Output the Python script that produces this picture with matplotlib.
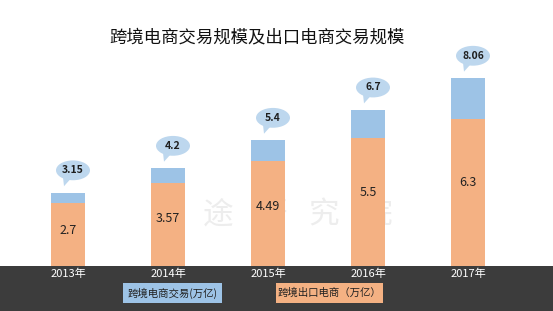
import numpy as np
import matplotlib
matplotlib.use('Agg')
import matplotlib.pyplot as plt
from matplotlib.patches import Ellipse, Polygon, Rectangle

plt.rcParams['font.family'] = ['Noto Sans CJK SC', 'DejaVu Sans']

# data
years = ['2013年', '2014年', '2015年', '2016年', '2017年']
total = [3.15, 4.2, 5.4, 6.7, 8.06]      # 跨境电商交易(万亿)
export = [2.7, 3.57, 4.49, 5.5, 6.3]     # 跨境出口电商(万亿)
watermark = ['途', '研', '究', '院']

c_orange = '#F4B183'
c_blue = '#9DC3E6'
c_bubble = '#BDD7EE'
c_band = '#3C3C3C'

W, H = 553, 311
fig = plt.figure(figsize=(W / 100, H / 100), dpi=100)
fig.patch.set_facecolor('white')

# dark band at bottom
fig.patches.append(Rectangle((0, 0), 1, 45 / H, transform=fig.transFigure,
                             facecolor=c_band, edgecolor='none', zorder=0))

ax = fig.add_axes([18 / W, 45 / H, 500 / W, 266 / H])
ax.set_xlim(-0.5, 4.5)
ax.set_ylim(0, 11.4)
ax.axis('off')

x = np.arange(len(years))
top = np.array(total) - np.array(export)
ax.bar(x, export, width=0.34, color=c_orange, zorder=3)
ax.bar(x, top, bottom=export, width=0.34, color=c_blue, zorder=3)

# watermark, mostly hidden behind the bars like in the original
for k, ch in enumerate(watermark):
    ax.text(1.5 + 0.53 * k, 2.2, ch, ha='center', va='center', fontsize=22,
            color='#EDEDED', zorder=1)

for i in range(len(years)):
    ax.text(x[i], export[i] * 0.57, f'{export[i]:g}', ha='center', va='center',
            fontsize=9, color='#222222', zorder=5)
    # speech bubble
    bx, by = x[i] + 0.05, total[i] + 0.95
    ax.add_patch(Ellipse((bx, by), 0.34, 0.85, facecolor=c_bubble,
                         edgecolor='none', zorder=4))
    ax.add_patch(Polygon([(bx - 0.1, by - 0.3), (bx - 0.01, by - 0.3),
                          (bx - 0.09, by - 0.68)], closed=True,
                         facecolor=c_bubble, edgecolor='none', zorder=4))
    ax.text(bx, by, f'{total[i]:g}', ha='center', va='center', fontsize=7.5,
            fontweight='bold', color='#1F1F1F', zorder=5)

# year labels
for i, y in enumerate(years):
    fig.text((18 + 50 + 100 * i) / W, 37 / H, y, ha='center', va='center',
             fontsize=8, color='white')

# title
fig.text(257 / W, 1 - 37 / H, '跨境电商交易规模及出口电商交易规模', ha='center',
         va='center', fontsize=12.5, color='#111111')

# legend boxes
fig.patches.append(Rectangle((123 / W, 8 / H), 99 / W, 20 / H,
                             transform=fig.transFigure, facecolor=c_blue,
                             edgecolor='none', zorder=2))
fig.text(172.5 / W, 18 / H, '跨境电商交易(万亿)', ha='center', va='center',
         fontsize=7.5, color='#222222', zorder=3)
fig.patches.append(Rectangle((276 / W, 8 / H), 107 / W, 20 / H,
                             transform=fig.transFigure, facecolor=c_orange,
                             edgecolor='none', zorder=2))
fig.text(329.5 / W, 18 / H, '跨境出口电商（万亿）', ha='center', va='center',
         fontsize=7.5, color='#222222', zorder=3)

fig.savefig('out.png', dpi=100)
plt.close(fig)
